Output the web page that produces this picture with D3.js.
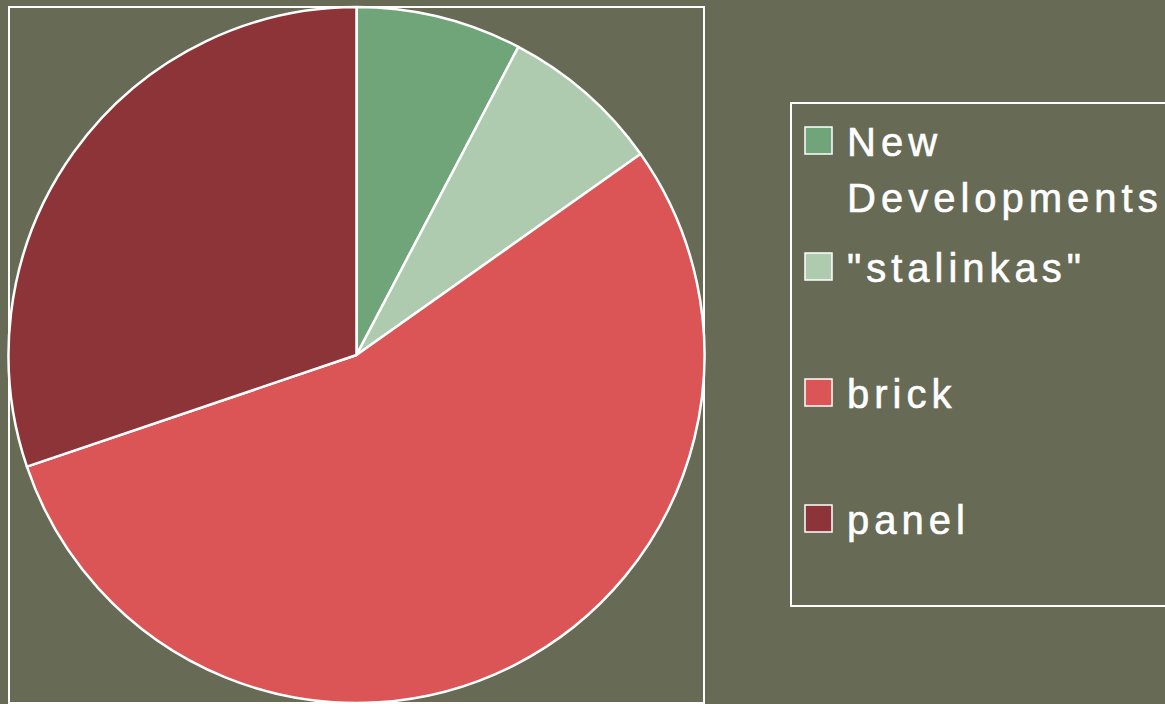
<!DOCTYPE html>
<html lang="en">
<head>
    <meta charset="UTF-8">
    <title>Housing Stock Types</title>
    <script src="https://d3js.org/d3.v7.min.js"></script>
    <style>
        body { margin: 0; background: #676a55; }
        svg { display: block; }
        .legend-label {
            font-family: "Liberation Sans", Arial, sans-serif;
            font-size: 40px;
            letter-spacing: 5px;
            fill: #ffffff;
            stroke: #ffffff;
            stroke-width: 0.6px;
        }
    </style>
</head>
<body>
    <div id="chart"></div>
    <script>
        // Chart data (shares, percent)
        const categories = ["New Developments", "\"stalinkas\"", "brick", "panel"];
        const shares = [7.7, 7.5, 54.6, 30.2];
        const colors = ["#70a479", "#aecbb0", "#db5456", "#8d3439"];
        // legend labels split into lines
        const labelLines = [["New", "Developments"], ["\"stalinkas\""], ["brick"], ["panel"]];

        const width = 1165, height = 704;
        const data = categories.map((c, i) => ({ name: c, value: shares[i], color: colors[i], lines: labelLines[i] }));

        const svg = d3.select("#chart")
            .append("svg")
            .attr("width", width)
            .attr("height", height);

        svg.append("rect")
            .attr("width", width)
            .attr("height", height)
            .attr("fill", "#676a55");

        // plot area frame
        svg.append("rect")
            .attr("x", 9)
            .attr("y", 7)
            .attr("width", 695)
            .attr("height", 696)
            .attr("fill", "none")
            .attr("stroke", "#ffffff")
            .attr("stroke-width", 2);

        const cx = 356.5, cy = 355, radius = 348;

        const pie = d3.pie()
            .value(d => d.value)
            .sort(null);

        const arc = d3.arc()
            .innerRadius(0)
            .outerRadius(radius);

        svg.append("g")
            .attr("transform", `translate(${cx},${cy})`)
            .selectAll("path")
            .data(pie(data))
            .enter().append("path")
            .attr("d", arc)
            .attr("fill", d => d.data.color)
            .attr("stroke", "#ffffff")
            .attr("stroke-width", 2.5)
            .attr("stroke-linejoin", "round");

        // legend
        const legend = svg.append("g");

        legend.append("rect")
            .attr("x", 791)
            .attr("y", 103)
            .attr("width", 400)
            .attr("height", 503)
            .attr("fill", "none")
            .attr("stroke", "#ffffff")
            .attr("stroke-width", 2);

        const rowY = d3.scalePoint()
            .domain(categories)
            .range([141, 519]);

        const items = legend.selectAll(".item")
            .data(data)
            .enter().append("g")
            .attr("class", "item")
            .attr("transform", d => `translate(0,${rowY(d.name)})`);

        items.append("rect")
            .attr("x", 805)
            .attr("y", -14)
            .attr("width", 27)
            .attr("height", 27)
            .attr("fill", d => d.color)
            .attr("stroke", "#ffffff")
            .attr("stroke-width", 1.5);

        items.append("text")
            .attr("class", "legend-label")
            .attr("x", 847)
            .attr("y", 15)
            .selectAll("tspan")
            .data(d => d.lines)
            .enter().append("tspan")
            .attr("x", 847)
            .attr("dy", (d, i) => i === 0 ? 0 : 56)
            .text(d => d);
    </script>
</body>
</html>
